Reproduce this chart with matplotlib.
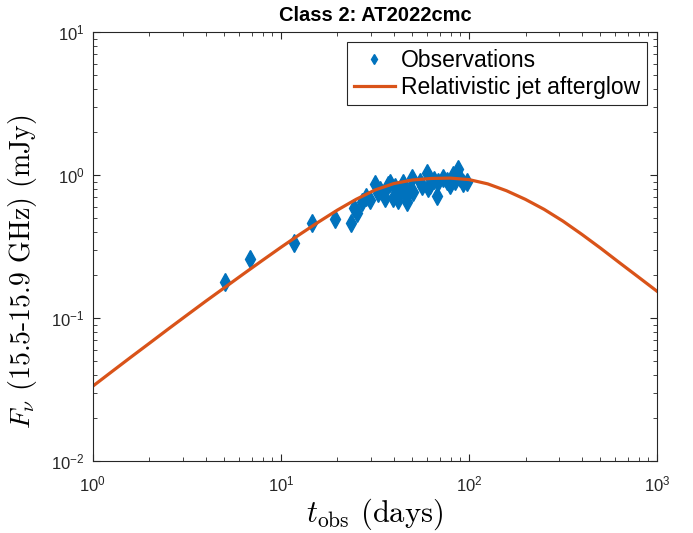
import matplotlib
matplotlib.use('Agg')
import matplotlib.pyplot as plt

# observations (days, mJy)
t_obs = [5.04, 6.84, 11.7, 14.6, 19.4, 23.6, 24.5, 25.4, 27.0, 28.3, 29.7, 31.6,
         32.8, 33.6, 35.7, 37.1, 38.0, 39.4, 40.4, 41.9, 43.0, 44.6, 45.7, 46.8,
         48.6, 49.8, 50.4, 54.9, 56.2, 59.8, 60.5, 62.0, 65.1, 67.6, 68.4, 72.7,
         76.4, 79.2, 82.2, 84.3, 87.4, 89.6, 92.9, 97.6]
flux_obs = [0.179, 0.259, 0.335, 0.462, 0.492, 0.462, 0.588, 0.542, 0.648, 0.702,
            0.669, 0.865, 0.748, 0.785, 0.691, 0.851, 0.879, 0.691, 0.824, 0.669,
            0.785, 0.879, 0.748, 0.648, 0.785, 0.953, 0.761, 0.893, 0.838, 1.033,
            0.811, 0.851, 0.923, 0.713, 0.893, 0.953, 0.908, 0.851, 1.0, 0.908,
            1.101, 0.953, 0.879, 0.893]

# model curve
t_model = [1, 1.259, 1.585, 1.995, 2.512, 3.162, 3.981, 5.012, 6.310, 7.943,
           10, 12.59, 15.85, 19.95, 25.12, 31.62, 39.81, 50.12, 63.10, 79.43,
           100, 125.9, 158.5, 199.5, 251.2, 316.2, 398.1, 501.2, 631.0, 794.3, 1000]
flux_model = [0.0334, 0.0421, 0.0530, 0.0665, 0.0836, 0.1047, 0.131, 0.163, 0.203,
              0.252, 0.312, 0.384, 0.469, 0.568, 0.676, 0.785, 0.871, 0.923, 0.946,
              0.951, 0.929, 0.867, 0.776, 0.676, 0.575, 0.476, 0.385, 0.308, 0.244,
              0.194, 0.154]

plt.rcParams['font.family'] = ['Liberation Sans', 'DejaVu Sans']
plt.rcParams['mathtext.fontset'] = 'custom'
plt.rcParams['mathtext.rm'] = 'Liberation Sans'
plt.rcParams['mathtext.it'] = 'Liberation Sans:italic'
plt.rcParams['mathtext.bf'] = 'Liberation Sans:bold'

fig = plt.figure(figsize=(6.93, 5.33), dpi=100)
ax = fig.add_axes([0.134, 0.135, 0.814, 0.805])

ax.plot(t_obs, flux_obs, 'd', color='#0072BD', markersize=9, label='Observations')
ax.plot(t_model, flux_model, '-', color='#D95319', linewidth=2.3,
        label='Relativistic jet afterglow')

ax.set_xscale('log')
ax.set_yscale('log')
ax.set_xlim(1, 1000)
ax.set_ylim(1e-2, 1e1)

ax.tick_params(which='both', direction='in', top=True, right=True,
               labelsize=12, colors='#262626')
ax.tick_params(axis='x', which='major', pad=10)
ax.tick_params(axis='y', which='major', pad=6)
ax.tick_params(which='major', length=5)
ax.tick_params(which='minor', length=3)
for s in ax.spines.values():
    s.set_color('#262626')
    s.set_linewidth(0.8)

ax.set_xlabel(r'$t_\mathrm{obs}$ (days)', fontsize=22, family='cmr10',
              math_fontfamily='cm')
ax.set_ylabel(r'$F_\nu$ (15.5-15.9 GHz) (mJy)', fontsize=20, family='cmr10',
              math_fontfamily='cm')
ax.xaxis.set_label_coords(0.5, -0.082)
ax.yaxis.set_label_coords(-0.095, 0.44)
ax.set_title('Class 2: AT2022cmc', fontsize=14.5, fontweight='bold', pad=8)

leg = ax.legend(loc='upper right', fontsize=16.5, frameon=True, fancybox=False,
                edgecolor='#262626', framealpha=1, borderaxespad=0.45,
                handlelength=1.8, handletextpad=0.25, markerscale=0.55,
                labelspacing=0.15, borderpad=0.3)
leg.get_frame().set_linewidth(0.8)

fig.savefig('out.png', dpi=100)
